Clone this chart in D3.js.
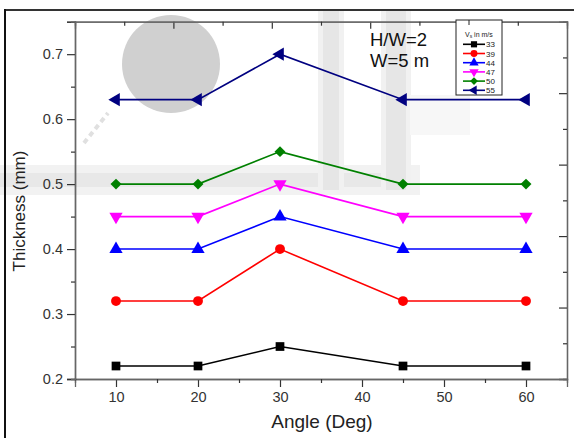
<!DOCTYPE html>
<html>
<head>
<meta charset="utf-8">
<script src="https://cdn.jsdelivr.net/npm/d3@7"></script>
<style>
  body { margin: 0; background: #fff; }
  svg { display: block; font-family: "Liberation Sans", Arial, sans-serif; }
</style>
</head>
<body>
<div id="chart"></div>
<script>
// angles (deg)
const angles = [10, 20, 30, 45, 60];

// thickness (mm) per Vs
const v33 = [0.22, 0.22, 0.25, 0.22, 0.22];
const v39 = [0.32, 0.32, 0.40, 0.32, 0.32];
const v44 = [0.40, 0.40, 0.45, 0.40, 0.40];
const v47 = [0.45, 0.45, 0.50, 0.45, 0.45];
const v50 = [0.50, 0.50, 0.55, 0.50, 0.50];
const v55 = [0.63, 0.63, 0.70, 0.63, 0.63];

const seriesNames = ["33", "39", "44", "47", "50", "55"];
const seriesValues = [v33, v39, v44, v47, v50, v55];

const xTicks = [10, 20, 30, 40, 50, 60];
const yTicks = [0.2, 0.3, 0.4, 0.5, 0.6, 0.7];

const colors = ["#000000", "#ff0000", "#0000ff", "#ff00ff", "#008000", "#000080"];
// symbol type + rotation
const shapes = [
  [d3.symbolSquare, 0],
  [d3.symbolCircle, 0],
  [d3.symbolTriangle, 0],
  [d3.symbolTriangle, 180],
  [d3.symbolSquare, 45],
  [d3.symbolTriangle, -90]
];

const W = 574, H = 438;
const pLeft = 75, pRight = 567, pTop = 21.7, pBottom = 379;

const svg = d3.select("#chart").append("svg")
  .attr("width", W).attr("height", H);

// faint background watermark
const wm = svg.append("g");
wm.append("rect").attr("x", 0).attr("y", 165).attr("width", 420).attr("height", 30).attr("fill", "#f2f2f2");
wm.append("rect").attr("x", 0).attr("y", 173).attr("width", 410).attr("height", 14).attr("fill", "#e8e8e8");
wm.append("rect").attr("x", 318).attr("y", 10).attr("width", 26).attr("height", 180).attr("fill", "#f1f1f1");
wm.append("rect").attr("x", 323).attr("y", 10).attr("width", 16).attr("height", 180).attr("fill", "#e6e6e6");
wm.append("rect").attr("x", 381).attr("y", 10).attr("width", 30).attr("height", 180).attr("fill", "#f1f1f1");
wm.append("rect").attr("x", 386).attr("y", 10).attr("width", 20).attr("height", 180).attr("fill", "#e6e6e6");
wm.append("rect").attr("x", 410).attr("y", 95).attr("width", 60).attr("height", 40).attr("fill", "#f7f7f7");
wm.append("circle").attr("cx", 171).attr("cy", 64).attr("r", 49).attr("fill", "#d0d0d0");
wm.append("line").attr("x1", 84).attr("y1", 143).attr("x2", 108).attr("y2", 113)
  .attr("stroke", "#e0e0e0").attr("stroke-width", 4).attr("stroke-dasharray", "5,4");

// outer frame
svg.append("line").attr("x1", 4).attr("x2", W).attr("y1", 10).attr("y2", 10)
  .attr("stroke", "#333").attr("stroke-width", 2);
svg.append("line").attr("x1", 5).attr("x2", 5).attr("y1", 9).attr("y2", H)
  .attr("stroke", "#111").attr("stroke-width", 2);

const x = d3.scaleLinear().domain([5, 65]).range([pLeft, pRight]);
const y = d3.scaleLinear().domain([0.2, 0.75]).range([pBottom, pTop]);
// mirrored axes use their own even spacing
const xTop = d3.scaleLinear().domain([0, 10]).range([pLeft, pRight]);
const yRight = d3.scaleLinear().domain([0, 10]).range([pBottom, pTop]);

// bottom axis
svg.append("g").attr("transform", `translate(0,${pBottom})`)
  .call(d3.axisBottom(x).tickValues(xTicks).tickSize(8).tickPadding(5).tickFormat(d3.format("d")));
svg.append("g").attr("transform", `translate(0,${pBottom})`)
  .call(d3.axisBottom(x).tickValues([15, 25, 35, 45, 55]).tickSize(4).tickFormat(""));

// left axis
const yAxis = svg.append("g").attr("transform", `translate(${pLeft},0)`)
  .call(d3.axisLeft(y).tickValues(yTicks).tickSize(8).tickPadding(4).tickFormat(d3.format(".1f")));
svg.append("g").attr("transform", `translate(${pLeft},0)`)
  .call(d3.axisLeft(y).tickValues([0.25, 0.35, 0.45, 0.55, 0.65]).tickSize(4).tickFormat(""));

// top axis (ticks inward)
svg.append("g").attr("transform", `translate(0,${pTop})`)
  .call(d3.axisBottom(xTop).tickValues([2, 4, 6, 8]).tickSize(7).tickFormat(""));
svg.append("g").attr("transform", `translate(0,${pTop})`)
  .call(d3.axisBottom(xTop).tickValues([1, 3, 5, 7, 9]).tickSize(4).tickFormat(""));

// right axis (ticks inward)
svg.append("g").attr("transform", `translate(${pRight},0)`)
  .call(d3.axisLeft(yRight).tickValues([2, 4, 6, 8]).tickSize(8).tickFormat(""));
svg.append("g").attr("transform", `translate(${pRight},0)`)
  .call(d3.axisLeft(yRight).tickValues([1, 3, 5, 7, 9]).tickSize(4).tickFormat(""));

svg.selectAll(".domain").attr("stroke", "#666").attr("stroke-width", 1.3);
svg.selectAll(".tick line").attr("stroke", "#333").attr("stroke-width", 1.2);
yAxis.select(".domain").attr("stroke", "#000");
svg.selectAll(".tick text").attr("font-size", 14.5).attr("fill", "#333")
  .attr("font-family", "Liberation Sans, Arial, sans-serif");

// axis titles
svg.append("text").attr("x", 322).attr("y", 428).attr("text-anchor", "middle")
  .attr("font-size", 19).attr("fill", "#222").text("Angle (Deg)");
svg.append("text").attr("transform", "translate(25,211) rotate(-90)").attr("text-anchor", "middle")
  .attr("font-size", 17).attr("fill", "#222").text("Thickness (mm)");

// series
const line = d3.line().x((d, i) => x(angles[i])).y(d => y(d));
seriesValues.forEach((vals, k) => {
  const g = svg.append("g");
  g.append("path").datum(vals).attr("d", line)
    .attr("fill", "none").attr("stroke", colors[k]).attr("stroke-width", 1.6);
  g.selectAll("path.m").data(vals).join("path").attr("class", "m")
    .attr("d", d3.symbol().type(shapes[k][0]).size(k === 4 ? 60 : 76))
    .attr("transform", (d, i) => `translate(${x(angles[i])},${y(d)}) rotate(${shapes[k][1]})`)
    .attr("fill", colors[k]);
});

// annotation
svg.append("text").attr("x", 370).attr("y", 46).attr("font-size", 18.5).attr("fill", "#111").text("H/W=2");
svg.append("text").attr("x", 370).attr("y", 67).attr("font-size", 18.5).attr("fill", "#111").text("W=5 m");

// legend
const lg = svg.append("g");
lg.append("rect").attr("x", 456).attr("y", 20).attr("width", 46).attr("height", 75)
  .attr("fill", "#fff").attr("stroke", "#222").attr("stroke-width", 1);
lg.append("line").attr("x1", 469).attr("x2", 469).attr("y1", 20).attr("y2", 25).attr("stroke", "#222");
lg.append("text").attr("x", 465).attr("y", 37).attr("font-size", 7).attr("fill", "#222")
  .html('V<tspan font-size="5" dy="1">s</tspan><tspan dy="-1"> in m/s</tspan>');
seriesNames.forEach((name, k) => {
  const ly = 44.3 + k * 9.2;
  lg.append("line").attr("x1", 463).attr("x2", 485).attr("y1", ly).attr("y2", ly)
    .attr("stroke", colors[k]).attr("stroke-width", 1.6);
  lg.append("path").attr("d", d3.symbol().type(shapes[k][0]).size(k === 4 ? 30 : 38))
    .attr("transform", `translate(474,${ly}) rotate(${shapes[k][1]})`).attr("fill", colors[k]);
  lg.append("text").attr("x", 486).attr("y", ly + 3).attr("font-size", 8).attr("fill", "#222").text(name);
});
</script>
</body>
</html>
